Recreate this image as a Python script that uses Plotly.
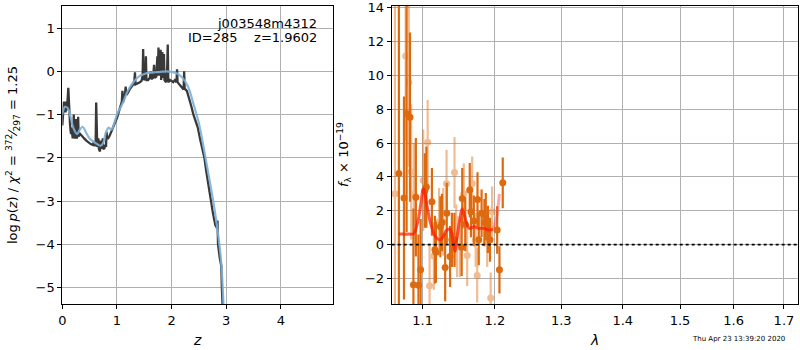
import math
import plotly.graph_objects as go

# ---------------- data: left panel (redshift PDF) ----------------
pz_z = [0.00, 0.01, 0.02, 0.03, 0.04, 0.05, 0.06, 0.07, 0.08, 0.09, 0.10, 0.11, 0.12, 0.13,
        0.14, 0.15, 0.16, 0.17, 0.18, 0.19, 0.20, 0.21, 0.22, 0.23, 0.24, 0.25, 0.26, 0.28,
        0.29, 0.30, 0.33, 0.36, 0.40, 0.44, 0.48, 0.52, 0.56, 0.58, 0.59, 0.61, 0.62, 0.63,
        0.64, 0.66, 0.67, 0.69, 0.70, 0.71, 0.73, 0.74, 0.75, 0.77, 0.79, 0.80, 0.81, 0.82,
        0.84, 0.87, 0.90, 0.93, 0.96, 1.00, 1.04, 1.07, 1.09, 1.10, 1.11, 1.14, 1.16, 1.17,
        1.20, 1.24, 1.27, 1.30, 1.32, 1.33, 1.34, 1.38, 1.42, 1.45, 1.47, 1.48, 1.49, 1.52,
        1.53, 1.54, 1.57, 1.60, 1.62, 1.63, 1.66, 1.68, 1.69, 1.72, 1.74, 1.75, 1.76, 1.77,
        1.80, 1.81, 1.83, 1.84, 1.86, 1.87, 1.90, 1.92, 1.93, 1.94, 1.97, 2.00, 2.03, 2.06,
        2.09, 2.10, 2.11, 2.14, 2.17, 2.20, 2.22, 2.23, 2.24, 2.28, 2.32, 2.36, 2.40, 2.44,
        2.48, 2.52, 2.56, 2.60, 2.64, 2.68, 2.72, 2.76, 2.80, 2.83, 2.84, 2.85, 2.88, 2.90,
        2.91, 2.92, 2.94]
pz_log = [-1.25, -0.95, -0.80, -0.70, -0.85, -0.75, -0.95, -0.70, -0.90, -0.80, -0.60, -0.38, -0.85, -1.00,
          -1.20, -1.35, -1.45, -1.30, -1.50, -1.55, -1.45, -1.00, -1.50, -1.55, -1.40, -1.10, -1.55, -1.50,
          -1.05, -1.50, -1.45, -1.50, -1.55, -1.60, -1.65, -1.68, -1.70, -1.62, -1.72, -1.70, -0.72, -1.60,
          -1.75, -1.55, -1.80, -1.85, -1.60, -1.78, -1.75, -1.55, -1.80, -1.78, -1.70, -1.75, -1.40, -1.55,
          -1.55, -1.48, -1.40, -1.30, -1.20, -1.08, -0.90, -0.78, -0.70, -0.45, -0.72, -0.60, -0.35, -0.55,
          -0.50, -0.40, -0.35, -0.30, -0.20, -0.02, -0.30, -0.28, -0.25, -0.22, -0.10, 0.52, -0.20, -0.15,
          0.35, -0.20, -0.20, -0.15, 0.00, -0.18, -0.15, 0.15, -0.15, -0.12, 0.35, -0.10, 0.55, -0.10,
          0.50, -0.20, 0.45, -0.15, 0.40, -0.20, -0.25, 0.10, 0.62, -0.25, -0.20, -0.22, -0.25, -0.20,
          -0.25, 0.05, -0.25, -0.30, -0.35, -0.40, -0.42, 0.00, -0.40, -0.45, -0.60, -0.80, -1.00, -1.15,
          -1.30, -1.55, -1.78, -2.00, -2.35, -2.70, -3.00, -3.30, -3.55, -3.62, -3.45, -4.00, -4.30, -4.45,
          -4.50, -5.00, -5.60]

prior_z = [0.00, 0.05, 0.10, 0.15, 0.20, 0.27, 0.32, 0.37, 0.45, 0.50, 0.60, 0.70, 0.75, 0.80,
           0.85, 0.90, 0.95, 1.00, 1.10, 1.20, 1.30, 1.40, 1.50, 1.60, 1.70, 1.80, 1.90, 2.00,
           2.10, 2.20, 2.30, 2.40, 2.50, 2.60, 2.70, 2.80, 2.90, 2.95]
prior_log = [-1.00, -0.82, -0.85, -1.05, -1.30, -1.45, -1.35, -1.28, -1.45, -1.55, -1.65, -1.72, -1.65, -1.40,
             -1.30, -1.35, -1.20, -1.00, -0.75, -0.45, -0.25, -0.12, -0.06, -0.03, -0.02, -0.01, 0.00, -0.01,
             -0.05, -0.15, -0.35, -0.75, -1.20, -1.85, -2.55, -3.30, -4.30, -5.40]

# ---------------- data: right panel (spectrum) ----------------
a_wave = [1.0690, 1.0756, 1.0790, 1.0834, 1.0879, 1.0911, 1.0945, 1.0974, 1.1030, 1.1050,
          1.1124, 1.1165, 1.1178, 1.1238, 1.1260, 1.1303, 1.1325, 1.1370, 1.1395, 1.1430,
          1.1530, 1.1538, 1.1580, 1.1643, 1.1660, 1.1700, 1.1752, 1.1770, 1.1810, 1.1850,
          1.1870, 1.1900, 1.1930, 1.2034, 1.2067, 1.2115]
a_flux = [4.20, 2.75, 7.73, 7.53, -2.37, 2.80, -2.40, -1.49, 3.20, 3.40,
          2.53, -0.30, -0.45, 1.06, 1.30, -1.35, 1.85, -0.70, 0.28, 0.28,
          -0.15, 2.73, 1.20, 3.22, 1.94, 1.40, 2.67, 0.28, 1.85, 1.30,
          1.65, 0.90, 0.28, 0.86, -1.49, 3.65]
a_err = [12.0, 6.0, 7.0, 5.0, 4.5, 3.5, 3.0, 3.0, 2.2, 2.4,
         2.0, 2.0, 1.8, 1.8, 1.7, 2.0, 1.8, 1.8, 1.6, 1.6,
         1.7, 1.8, 1.6, 1.6, 1.5, 1.5, 1.6, 1.5, 1.4, 1.4,
         1.4, 1.4, 1.3, 1.4, 1.4, 1.5]

b_wave = [1.0640, 1.0778, 1.0818, 1.0850, 1.0885, 1.1008, 1.1067, 1.1093, 1.1150, 1.1220,
          1.1277, 1.1322, 1.1431, 1.1454, 1.1466, 1.1505, 1.1560, 1.1607, 1.1677, 1.1726,
          1.1748, 1.1890, 1.1940, 1.1961]
b_flux = [3.00, 11.15, 9.60, 4.30, 3.00, 3.80, 6.05, -2.43, -0.67, 1.35,
          1.35, 3.60, 4.26, 0.57, -0.12, -0.12, 3.00, -0.65, 3.61, 0.28,
          -1.82, 0.18, -3.15, 1.94]
b_err = [12.0, 5.0, 5.0, 4.0, 3.0, 3.0, 2.5, 2.5, 2.0, 2.0,
         2.0, 2.0, 2.1, 1.8, 1.8, 1.8, 1.8, 1.8, 1.6, 1.6,
         1.6, 1.5, 1.5, 1.5]

model_wave = [1.0688, 1.0750, 1.0820, 1.0882, 1.0948, 1.1013, 1.1062, 1.1106, 1.1172, 1.1238,
              1.1327, 1.1370, 1.1415, 1.1436, 1.1480, 1.1538, 1.1569, 1.1636, 1.1703, 1.1770,
              1.1838, 1.1906, 1.1974]
model_flux = [0.62, 0.62, 0.62, 0.65, 1.60, 3.30, 2.20, 1.27, 0.47, 0.28,
              0.86, 0.90, 0.08, -0.40, 0.86, 2.10, 1.70, 0.96, 1.06, 0.96,
              0.96, 0.86, 0.90]
model_end_wave = [1.1974, 1.2019, 1.2066]
model_end_flux = [0.90, 1.45, 3.00]

stamp = "Thu Apr 23 13:39:20 2020"
title_1 = "j003548m4312"
title_2 = "ID=285\u00a0\u00a0\u00a0\u00a0z=1.9602"

FONT = "DejaVu Sans"
DARK = "#de6a10"
W, H = 800, 350

fig = go.Figure()

fig.add_trace(go.Scatter(x=pz_z, y=pz_log, mode="lines",
                         line=dict(color="#3a3a3a", width=2.3),
                         xaxis="x", yaxis="y", showlegend=False))
fig.add_trace(go.Scatter(x=prior_z, y=prior_log, mode="lines",
                         line=dict(color="#7fb0d8", width=2.2, shape="spline"),
                         opacity=0.9, xaxis="x", yaxis="y", showlegend=False))

fig.add_trace(go.Scatter(x=b_wave, y=b_flux, mode="markers",
                         marker=dict(color=DARK, size=7),
                         error_y=dict(type="data", array=b_err, color=DARK, thickness=2.2, width=0),
                         opacity=0.45, xaxis="x2", yaxis="y2", showlegend=False))
fig.add_trace(go.Scatter(x=a_wave, y=a_flux, mode="markers",
                         marker=dict(color=DARK, size=7),
                         error_y=dict(type="data", array=a_err, color=DARK, thickness=2.2, width=0),
                         xaxis="x2", yaxis="y2", showlegend=False))
fig.add_trace(go.Scatter(x=model_wave, y=model_flux, mode="lines",
                         line=dict(color="rgba(255,25,0,0.72)", width=3, shape="spline"),
                         xaxis="x2", yaxis="y2", showlegend=False))
fig.add_trace(go.Scatter(x=model_end_wave, y=model_end_flux, mode="lines",
                         line=dict(color="rgba(255,60,60,0.45)", width=3, shape="spline"),
                         xaxis="x2", yaxis="y2", showlegend=False))

# dotted zero line across the right panel
fig.add_shape(type="line", xref="x2 domain", yref="y2", x0=0, x1=1, y0=0, y1=0,
              line=dict(color="black", width=1.8, dash="dot"))

axis_common = dict(showline=True, linecolor="black", linewidth=1, mirror=True,
                   ticks="outside", ticklen=4, tickcolor="black", automargin=False,
                   showgrid=True, gridcolor="#b0b0b0", gridwidth=1, zeroline=False,
                   tickfont=dict(family=FONT, size=13, color="black"))

ydom = [1 - 304 / H, 1 - 5.5 / H]
fig.update_layout(
    width=W, height=H, margin=dict(l=0, r=0, t=0, b=0, autoexpand=False),
    paper_bgcolor="white", plot_bgcolor="white",
    font=dict(family=FONT, size=13, color="black"),
    xaxis=dict(domain=[62.3 / W, 333.3 / W], range=[0, 4.96], dtick=1, anchor="y", **axis_common),
    yaxis=dict(domain=ydom, range=[-5.38, 1.524], dtick=1, anchor="x", **axis_common),
    xaxis2=dict(domain=[391.7 / W, 798 / W], type="log",
                range=[math.log10(1.0598), math.log10(1.729)],
                tickvals=[1.1, 1.2, 1.3, 1.4, 1.5, 1.6, 1.7],
                ticktext=["1.1", "1.2", "1.3", "1.4", "1.5", "1.6", "1.7"],
                anchor="y2", **axis_common),
    yaxis2=dict(domain=ydom, range=[-3.51, 14.13], dtick=2, anchor="x2", **axis_common),
)

ann = [
    dict(text=title_1, x=319 / W, y=1 - 23 / H, xanchor="right", yanchor="middle",
         font=dict(family=FONT, size=13)),
    dict(text=title_2, x=319 / W, y=1 - 38 / H, xanchor="right", yanchor="middle",
         font=dict(family=FONT, size=13)),
    dict(text="log\u2009<i>p</i>(<i>z</i>) / <i>χ</i><sup>2</sup> = <sup>372</sup>\u2044<sub>297</sub> = 1.25",
         x=13 / W, y=1 - 155 / H, xanchor="center", yanchor="middle", textangle=-90,
         font=dict(family=FONT, size=13)),
    dict(text="<i>f</i><sub>λ</sub> × 10<sup>−19</sup>",
         x=344 / W, y=1 - 155 / H, xanchor="center", yanchor="middle", textangle=-90,
         font=dict(family=FONT, size=13)),
    dict(text="<i>z</i>", x=197 / W, y=1 - 340 / H, xanchor="center", yanchor="middle",
         font=dict(family=FONT, size=14)),
    dict(text="<i>λ</i>", x=594 / W, y=1 - 340 / H, xanchor="center", yanchor="middle",
         font=dict(family=FONT, size=14)),
    dict(text=stamp, x=787 / W, y=1 - 339 / H, xanchor="right", yanchor="middle",
         font=dict(family=FONT, size=7)),
]
for a in ann:
    a.update(xref="paper", yref="paper", showarrow=False)
fig.update_layout(annotations=ann)

fig.write_html(
    "out.html",
    config={"displayModeBar": False, "responsive": False},
    post_script="document.documentElement.style.margin='0';document.documentElement.style.padding='0';"
                "document.body.style.margin='0';document.body.style.padding='0';"
                "document.body.style.overflow='hidden';"
                "document.querySelectorAll('.plotly-graph-div').forEach(function(d){"
                "d.style.position='absolute';d.style.left='0px';d.style.top='0px';});",
)
